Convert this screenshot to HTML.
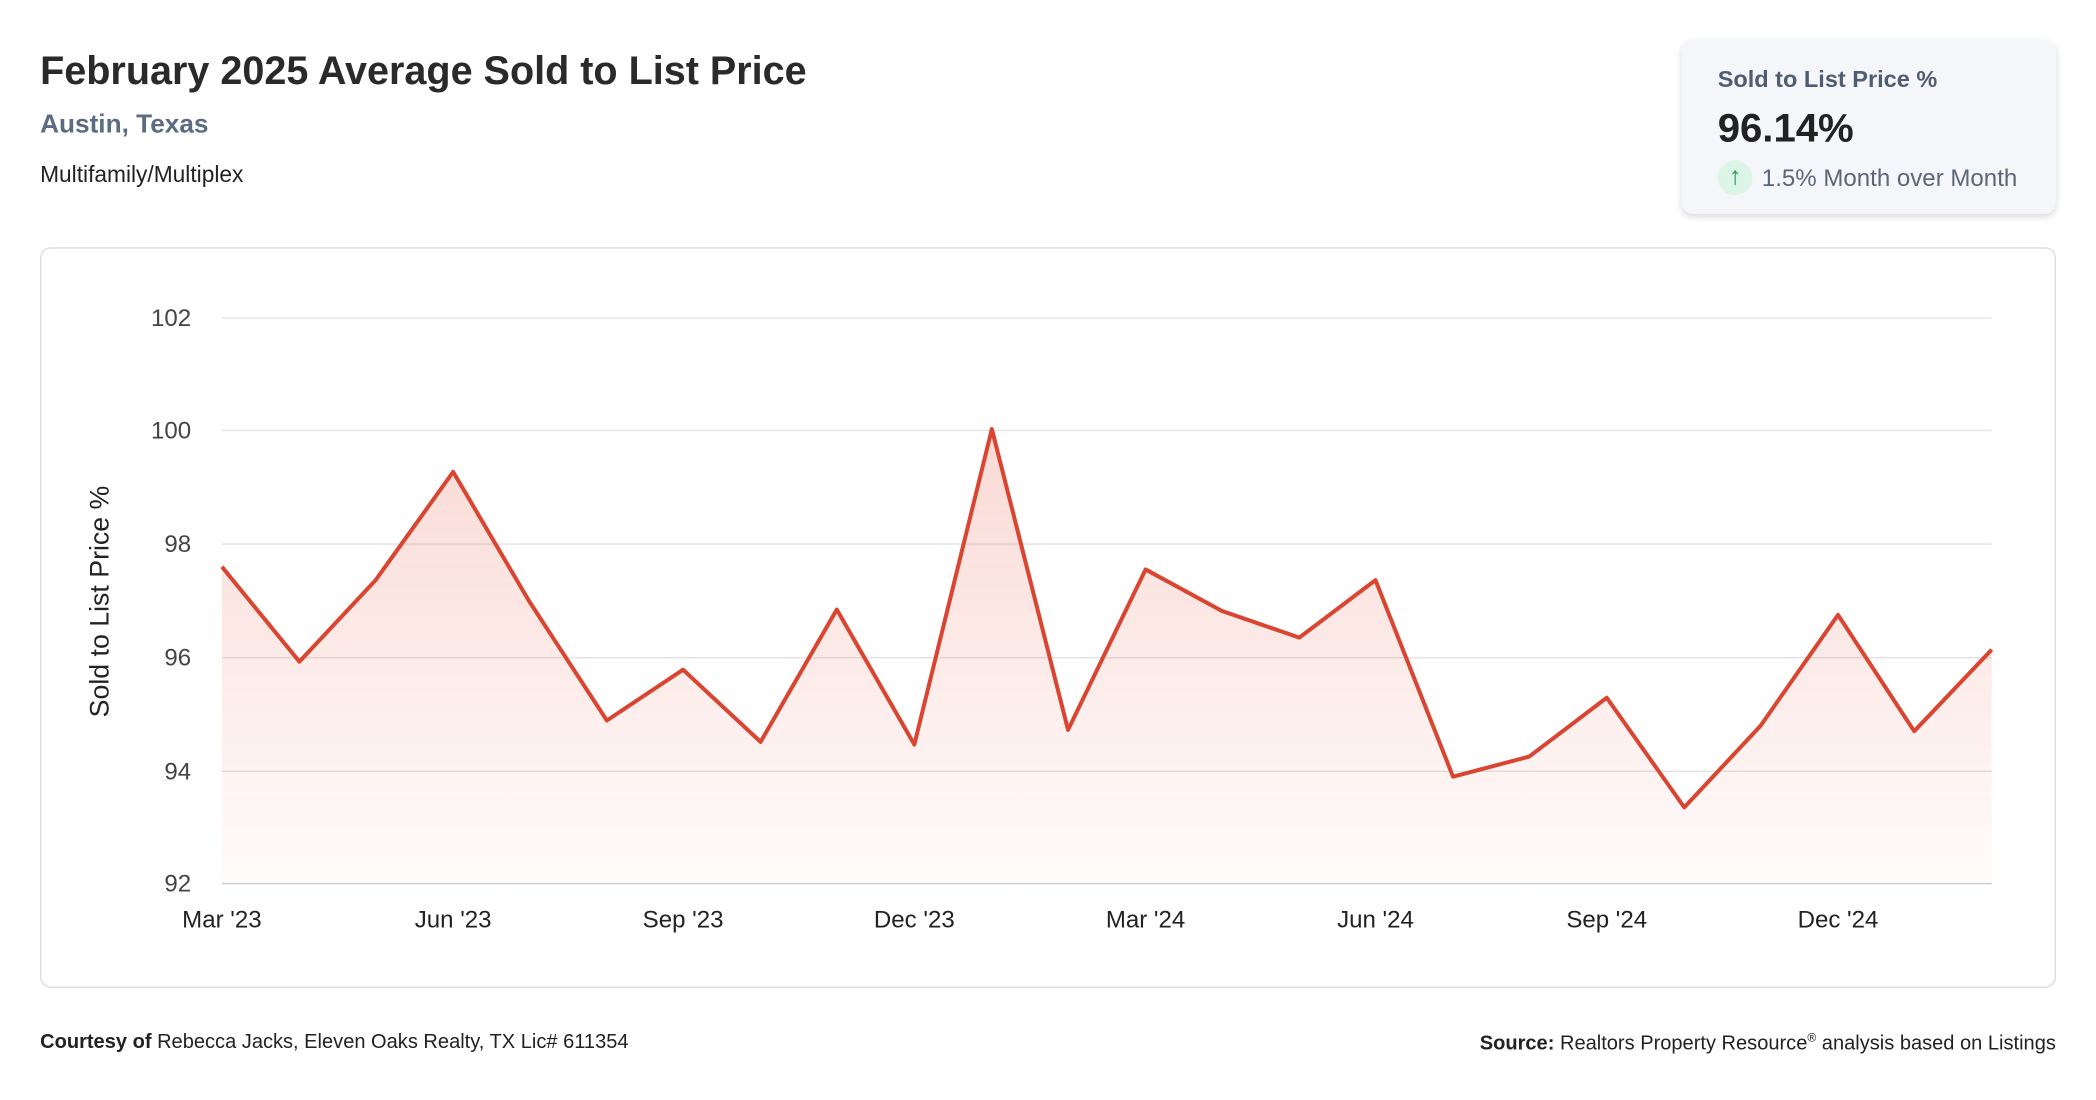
<!DOCTYPE html>
<html><head><meta charset="utf-8"><style>
html,body{margin:0;padding:0;background:#fff;width:2096px;height:1100px;overflow:hidden}
#w{position:absolute;left:0;top:0;width:1568px;height:823px;transform:scale(1.33673);transform-origin:0 0;font-family:"Liberation Sans",sans-serif;color:#222}
.a{position:absolute;white-space:nowrap}
</style></head><body><div id="w">
<div class="a" style="left:30px;top:37px;font-size:29.6px;font-weight:bold;color:#2a2a2a">February 2025 Average Sold to List Price</div>
<div class="a" style="left:30px;top:82px;font-size:19.6px;font-weight:bold;color:#5b6b82">Austin, Texas</div>
<div class="a" style="left:30px;top:121px;font-size:17px;color:#222">Multifamily/Multiplex</div>
<div class="a" style="left:1258px;top:30px;width:280px;height:130px;background:#f5f6f9;border-radius:8px;box-shadow:0 2px 5px rgba(0,0,0,.15)">
 <div class="a" style="left:27px;top:19px;font-size:17.6px;font-weight:bold;color:#4f5d72">Sold to List Price %</div>
 <div class="a" style="left:27px;top:50px;font-size:30px;font-weight:bold;color:#222">96.14%</div>
 <div class="a" style="left:27px;top:90px;width:26px;height:26px;border-radius:13px;background:#dcf5e6;color:#1f9a55;font-size:19px;text-align:center;line-height:26px">↑</div>
 <div class="a" style="left:60px;top:93px;font-size:18px;color:#5b6676">1.5% Month over Month</div>
</div>
<div class="a" style="left:30px;top:185px;width:1506px;height:552px;border:1px solid #d8dde3;border-radius:8px"></div>
<svg class="a" style="left:0;top:0" width="1568" height="823" font-family="Liberation Sans, sans-serif">
<defs><linearGradient id="g" x1="0" y1="0" x2="0" y2="1"><stop offset="0" stop-color="#e8543e" stop-opacity=".22"/><stop offset="1" stop-color="#e8543e" stop-opacity=".02"/></linearGradient></defs>
<g stroke="#e2e2e2" stroke-width="1">
<line x1="166" x2="1490" y1="238" y2="238"/><line x1="166" x2="1490" y1="322" y2="322"/><line x1="166" x2="1490" y1="407" y2="407"/><line x1="166" x2="1490" y1="492" y2="492"/><line x1="166" x2="1490" y1="577" y2="577"/><line x1="166" x2="1490" y1="661" y2="661" stroke="#ccc"/></g>
<g font-size="18" fill="#444" text-anchor="end"><text x="143" y="244">102</text><text x="143" y="328">100</text><text x="143" y="413">98</text><text x="143" y="498">96</text><text x="143" y="583">94</text><text x="143" y="667">92</text></g>
<g font-size="18" fill="#222" text-anchor="middle"><text x="166" y="694">Mar '23</text><text x="339" y="694">Jun '23</text><text x="511" y="694">Sep '23</text><text x="684" y="694">Dec '23</text><text x="857" y="694">Mar '24</text><text x="1029" y="694">Jun '24</text><text x="1202" y="694">Sep '24</text><text x="1375" y="694">Dec '24</text></g>
<text transform="translate(81,450) rotate(-90)" font-size="20" fill="#222" text-anchor="middle">Sold to List Price %</text>
<path d="M166,424 L224,495 L281,434 L339,353 L396,450 L454,539 L511,501 L569,555 L626,456 L684,557 L742,321 L799,546 L857,426 L914,457 L972,477 L1029,434 L1087,581 L1144,566 L1202,522 L1260,604 L1317,543 L1375,460 L1432,547 L1490,486 L1490,661 L166,661Z" fill="url(#g)"/>
<path d="M166,424 L224,495 L281,434 L339,353 L396,450 L454,539 L511,501 L569,555 L626,456 L684,557 L742,321 L799,546 L857,426 L914,457 L972,477 L1029,434 L1087,581 L1144,566 L1202,522 L1260,604 L1317,543 L1375,460 L1432,547 L1490,486" fill="none" stroke="#d94530" stroke-width="3" stroke-linejoin="round"/>
</svg>
<div class="a" style="left:30px;top:771px;font-size:15px;color:#222"><b>Courtesy of</b> Rebecca Jacks, Eleven Oaks Realty, TX Lic# 611354</div>
<div class="a" style="right:30px;top:771px;font-size:15px;color:#222"><b>Source:</b> Realtors Property Resource<sup style="font-size:9px">®</sup> analysis based on Listings</div>
</div></body></html>
